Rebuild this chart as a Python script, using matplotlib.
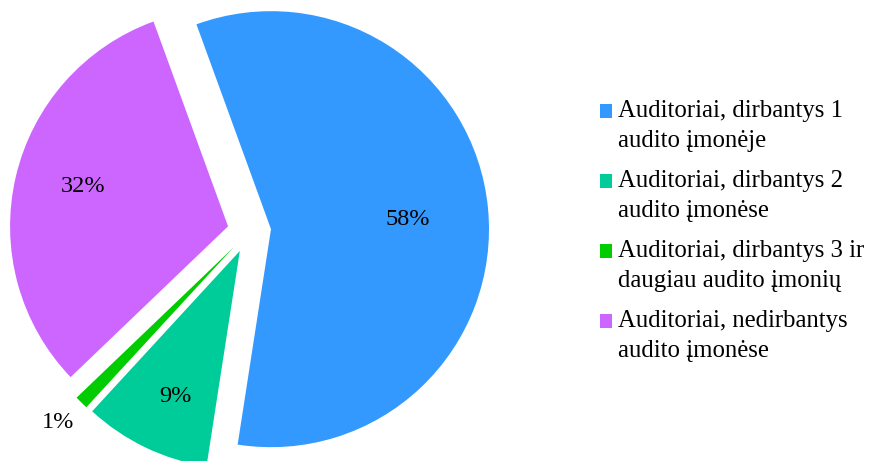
import matplotlib
matplotlib.use('Agg')
import matplotlib.pyplot as plt
from matplotlib.patches import Rectangle
import numpy as np

plt.rcParams['font.family'] = ['Liberation Serif', 'DejaVu Serif']

labels = ['Auditoriai, dirbantys 1\naudito įmonėje',
          'Auditoriai, dirbantys 2\naudito įmonėse',
          'Auditoriai, dirbantys 3 ir\ndaugiau audito įmonių',
          'Auditoriai, nedirbantys\naudito įmonėse']
shares = [58.0, 9.4, 1.0, 31.6]
colors = ['#3399FF', '#00CC99', '#00CC00', '#CC66FF']

W, H = 869, 461
fig = plt.figure(figsize=(W / 100, H / 100), dpi=100)

# pie centre / radius in pixels
cx, cy, r = 249.3, 231.3, 218.0
lim = 1.3
half = lim * r
ax = fig.add_axes([(cx - half) / W, (H - cy - half) / H, 2 * half / W, 2 * half / H])

explode = [0.1] * len(shares)
wedges, _ = ax.pie(shares, colors=colors, startangle=110, counterclock=False,
                   explode=explode, radius=1.0,
                   wedgeprops=dict(linewidth=0))
ax.set_xlim(-lim, lim)
ax.set_ylim(-lim, lim)
ax.set_aspect('equal')
ax.axis('off')

# percentage labels (distance from wedge tip, small angle nudge)
label_dist = [0.63, 0.73, 1.14, 0.69]
label_nudge = [-1.7, 1.7, -0.7, -2.2]
for w, val, d, nd in zip(wedges, shares, label_dist, label_nudge):
    ang = np.deg2rad((w.theta1 + w.theta2) / 2 + nd)
    x0, y0 = w.center
    ax.text(x0 + d * np.cos(ang), y0 + d * np.sin(ang), f'{val:.0f}%',
            ha='center', va='center', fontsize=17.5)

# legend drawn by hand (square aligned with first line)
tx = 618
base0 = 116.7
step = 70
line_gap = 30
for i, (lab, col) in enumerate(zip(labels, colors)):
    b = base0 + i * step
    fig.patches.append(Rectangle((600 / W, (H - b - 1) / H), 12 / W, 13.4 / H,
                                 transform=fig.transFigure, facecolor=col,
                                 edgecolor='none'))
    for j, line in enumerate(lab.split('\n')):
        fig.text(tx / W, (H - b - j * line_gap) / H, line, fontsize=17.8,
                 ha='left', va='baseline')

fig.savefig('out.png', dpi=100)
